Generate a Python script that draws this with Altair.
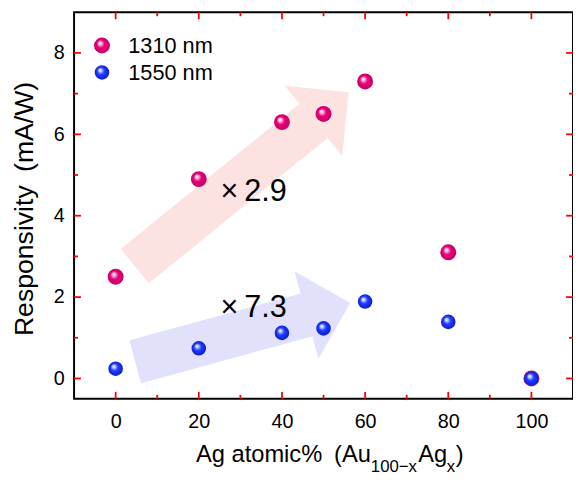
import altair as alt
import pandas as pd

# ---- data ----
ag_percent = [0, 20, 40, 50, 60, 80, 100]
resp_1310 = [2.5, 4.9, 6.3, 6.5, 7.3, 3.1, 0.0]
resp_1550 = [0.24, 0.74, 1.12, 1.23, 1.89, 1.39, 0.0]
series_names = ["1310 nm", "1550 nm"]

x_ticks_major = [0, 20, 40, 60, 80, 100]
x_ticks_minor = [10, 30, 50, 70, 90]
y_ticks_major = [0, 2, 4, 6, 8]
y_ticks_minor = [1, 3, 5, 7]

# annotation arrows (data coordinates): tail centre, head-base centre
arrow_tail_x = [4.6, 4.7]
arrow_tail_y = [2.76, 0.41]
arrow_head_x = [47.6, 45.9]
arrow_head_y = [6.33, 1.56]
arrow_angles = [320.7, 344.7]
arrow_text = ["×\u20092.9", "×\u20097.3"]
arrow_text_x = [25.2, 25.2]
arrow_text_y = [4.36, 1.52]

# ---- style ----
W, H = 506, 392
X_DOMAIN = [-10, 110]
Y_DOMAIN = [-0.5, 9]
FONT = "Liberation Sans, Noto Sans CJK JP, sans-serif"
arrow_colors = ["#fde2e2", "#e1e1fb"]
TICK_COLOR = "red"
PX_X = (X_DOMAIN[1] - X_DOMAIN[0]) / W   # data units per pixel
PX_Y = (Y_DOMAIN[1] - Y_DOMAIN[0]) / H


def sphere(light, mid, dark):
    return alt.RadialGradient(
        gradient="radial",
        stops=[
            alt.GradientStop(offset=0.0, color="#ffffff"),
            alt.GradientStop(offset=0.16, color=light),
            alt.GradientStop(offset=0.45, color=mid),
            alt.GradientStop(offset=1.0, color=dark),
        ],
        x1=0.36, y1=0.33, r1=0.0, x2=0.5, y2=0.5, r2=0.55,
    )


sphere_fills = [sphere("#ffc8e4", "#e8007a", "#c00060"),
                sphere("#c8d2ff", "#1f3cff", "#0a18c8")]
sphere_sizes = [260, 218]

x_scale = alt.Scale(domain=X_DOMAIN, nice=False, zero=False)
y_scale = alt.Scale(domain=Y_DOMAIN, nice=False, zero=False)
x_axis = alt.Axis(values=x_ticks_major, ticks=False, domain=False, grid=False,
                  labelFontSize=20, labelFont=FONT, labelColor="black", labelPadding=13, title=None)
y_axis = alt.Axis(values=y_ticks_major, ticks=False, domain=False, grid=False,
                  labelFontSize=20, labelFont=FONT, labelColor="black", labelPadding=10, title=None)


def X(f):
    return alt.X(f, type="quantitative", scale=x_scale, axis=x_axis)


def Y(f):
    return alt.Y(f, type="quantitative", scale=y_scale, axis=y_axis)


layers = []

# inward ticks on all four sides, drawn as thin rectangles in data units
tick_rows = []
for vals, L in [(x_ticks_major, 7), (x_ticks_minor, 4)]:
    for v in vals:
        tick_rows.append({"x": v - 0.9 * PX_X, "x2": v + 0.9 * PX_X,
                          "y": Y_DOMAIN[0], "y2": Y_DOMAIN[0] + L * PX_Y})
        tick_rows.append({"x": v - 0.9 * PX_X, "x2": v + 0.9 * PX_X,
                          "y": Y_DOMAIN[1], "y2": Y_DOMAIN[1] - L * PX_Y})
for vals, L in [(y_ticks_major, 7), (y_ticks_minor, 4)]:
    for v in vals:
        tick_rows.append({"x": X_DOMAIN[0], "x2": X_DOMAIN[0] + L * PX_X,
                          "y": v - 0.9 * PX_Y, "y2": v + 0.9 * PX_Y})
        tick_rows.append({"x": X_DOMAIN[1], "x2": X_DOMAIN[1] - L * PX_X,
                          "y": v - 0.9 * PX_Y, "y2": v + 0.9 * PX_Y})
ticks_df = pd.DataFrame(tick_rows)
layers.append(
    alt.Chart(ticks_df).mark_rect(color=TICK_COLOR, opacity=1, strokeWidth=0)
    .encode(x=X("x"), y=Y("y"), x2="x2", y2="y2")
)

# arrows
for i in range(2):
    tx, ty = arrow_tail_x[i], arrow_tail_y[i]
    hx, hy = arrow_head_x[i], arrow_head_y[i]
    ex, ey = hx + 0.03 * (hx - tx), hy + 0.03 * (hy - ty)
    shaft_df = pd.DataFrame({"x": [tx], "y": [ty], "x2": [ex], "y2": [ey]})
    layers.append(
        alt.Chart(shaft_df).mark_rule(strokeWidth=45, color=arrow_colors[i], strokeCap="butt")
        .encode(x=X("x"), y=Y("y"), x2="x2", y2="y2")
    )
    head_df = pd.DataFrame({"x": [hx], "y": [hy]})
    layers.append(
        alt.Chart(head_df).mark_point(shape="M0,-1L1,0L0,1Z", filled=True, color=arrow_colors[i],
                                      fill=arrow_colors[i], strokeWidth=0, opacity=1,
                                      size=8464, angle=arrow_angles[i])
        .encode(x=X("x"), y=Y("y"))
    )

# factor labels
lab_df = pd.DataFrame({"x": arrow_text_x, "y": arrow_text_y, "t": arrow_text})
layers.append(
    alt.Chart(lab_df).mark_text(align="left", baseline="alphabetic", fontSize=31, font=FONT, color="black")
    .encode(x=X("x"), y=Y("y"), text="t:N")
)

# data points
for i, vals in enumerate([resp_1310, resp_1550]):
    df = pd.DataFrame({"x": ag_percent, "y": vals})
    layers.append(
        alt.Chart(df).mark_circle(fill=sphere_fills[i], opacity=1, size=sphere_sizes[i], strokeWidth=0)
        .encode(x=X("x"), y=Y("y"))
    )

# legend
legend_y = [33.7, 61.0]
legend_text_y = [41.7, 68.3]
for i, name in enumerate(series_names):
    df = pd.DataFrame({"t": [name]})
    layers.append(alt.Chart(df).mark_circle(fill=sphere_fills[i], opacity=1, size=sphere_sizes[i], strokeWidth=0)
                  .encode(x=alt.value(28.3), y=alt.value(legend_y[i])))
    layers.append(alt.Chart(df).mark_text(align="left", baseline="alphabetic", fontSize=22, font=FONT, color="black")
                  .encode(x=alt.value(55), y=alt.value(legend_text_y[i]), text="t:N"))

# axis titles (x title with subscripts)
title_parts = [
    ("Ag atomic%\u2002(Au", "right", 301, 456, 24),
    ("100−x", "left", 301, 466, 17),
    ("Ag", "left", 349, 456, 24),
    ("x", "left", 378, 466, 17),
    (")", "left", 387, 456, 24),
]
for txt, al, px, py, fs in title_parts:
    df = pd.DataFrame({"t": [txt]})
    layers.append(alt.Chart(df).mark_text(align=al, baseline="alphabetic", fontSize=fs, font=FONT, color="black")
                  .encode(x=alt.value(px), y=alt.value(py), text="t:N"))

ytitle_df = pd.DataFrame({"t": ["Responsivity\u2002(mA/W)"]})
layers.append(alt.Chart(ytitle_df).mark_text(align="center", baseline="alphabetic", angle=270, fontSize=27,
                                             font=FONT, color="black")
              .encode(x=alt.value(-42), y=alt.value(199.5), text="t:N"))

chart = alt.layer(*layers).properties(
    width=W, height=H,
    padding={"left": 67, "top": 1, "right": 0, "bottom": 77},
    autosize=alt.AutoSizeParams(type="none"),
    background="white",
).configure_view(stroke="black", strokeWidth=2)

chart.save("out.html", embed_options={"renderer": "svg", "actions": False})
